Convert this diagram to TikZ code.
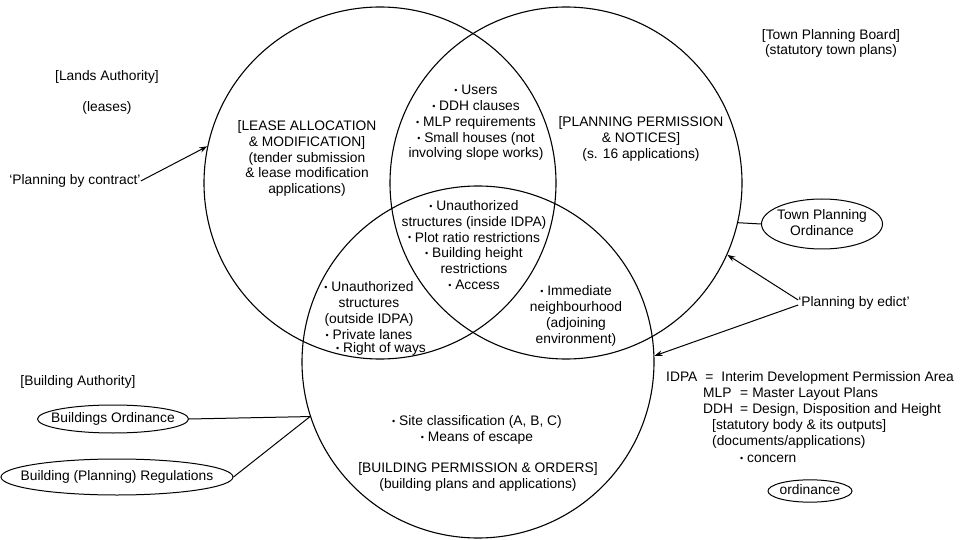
\documentclass[tikz,border=0pt]{standalone}
\usepackage{fontspec}
\setmainfont{Liberation Sans}
\usetikzlibrary{shapes.geometric,arrows.meta}
\newcommand{\bul}{\raisebox{0.15ex}{\scalebox{0.65}{•}}}
\newcommand{\ovaltext}[1]{\makebox[0pt]{\begin{tabular}{@{}c@{}}#1\end{tabular}}}
\begin{document}
\begin{tikzpicture}[x=1pt,y=-1pt,
  every node/.style={font=\fontsize{13.8}{15.8}\selectfont},
  txt/.style={align=center,inner sep=0pt},
  ltxt/.style={anchor=west,inner sep=0pt},
  setcircle/.style={circle,draw,line width=1.1pt,minimum size=352pt,inner sep=0pt},
  oval/.style={ellipse,draw,line width=1pt,inner sep=0pt},
  conn/.style={line width=1pt},
  arr/.style={line width=1pt,-{Stealth[length=8pt,width=5.5pt]}}]
\useasboundingbox (0,0) rectangle (964,540);
% circles
\node[setcircle] (lc) at (380,183) {};
\node[setcircle] (rc) at (566,183) {};
\node[setcircle] (bc) at (478,362) {};
% outside labels
\node[txt] (la) at (107,77) {[Lands Authority]};
\node[txt] (lea) at (107,108) {(leases)};
\node[txt] (pbc) at (75,181) {‘Planning by contract’};
\node[txt] (tpb) at (831,43.5) {[Town Planning Board]\\(statutory town plans)};
\node[oval,minimum width=121pt,minimum height=50pt] (tpo) at (822,224) {\ovaltext{Town Planning\\Ordinance}};
\node[txt] (pbe) at (854,303) {‘Planning by edict’};
\node[txt] (ba) at (78,382) {[Building Authority]};
\node[oval,minimum width=151pt,minimum height=28pt] (bo) at (113,419) {\ovaltext{Buildings Ordinance}};
\node[oval,minimum width=232pt,minimum height=36pt] (bpr) at (117,477) {\ovaltext{Building (Planning) Regulations}};
% circle contents
\node[txt] (lease) at (307,158.5) {[LEASE ALLOCATION\\\& MODIFICATION]\\(tender submission\\\& lease modification\\applications)};
\node[txt] (toplens) at (476,123) {\bul\ Users\\\bul\ DDH clauses\\\bul\ MLP requirements\\\bul\ Small houses (not\\involving slope works)};
\node[txt] (ppn) at (641,139) {[PLANNING PERMISSION\\\& NOTICES]\\(s. 16 applications)};
\node[txt] (mid) at (474,245) {\bul\ Unauthorized\\structures (inside IDPA)\\\bul\ Plot ratio restrictions\\\bul\ Building height\\restrictions\\\bul\ Access};
\node[txt] (leftlens) at (369,310.5) {\bul\ Unauthorized\\structures\\(outside IDPA)\\\bul\ Private lanes};
\node[txt] (row) at (381,349) {\bul\ Right of ways};
\node[txt] (rightlens) at (576,316) {\bul\ Immediate\\neighbourhood\\(adjoining\\environment)};
\node[txt] (site) at (477,430) {\bul\ Site classification (A, B, C)\\\bul\ Means of escape};
\node[txt] (bpo) at (478,477) {[BUILDING PERMISSION \& ORDERS]\\(building plans and applications)};
% legend
\node[ltxt] (k1) at (666,378) {IDPA\hspace{8pt}=\hspace{8pt}Interim Development Permission Area};
\node[ltxt] (k2) at (703,394) {\makebox[37pt][l]{MLP}=\hspace{4pt}Master Layout Plans};
\node[ltxt] (k3) at (703,410) {\makebox[37pt][l]{DDH}=\hspace{4pt}Design, Disposition and Height};
\node[ltxt] (k4) at (712,426) {[statutory body \& its outputs]};
\node[ltxt] (k5) at (712,442) {(documents/applications)};
\node[ltxt] (k6) at (740,459) {\bul\ concern};
\node[oval,minimum width=84pt,minimum height=21pt] (k7) at (810,491) {\ovaltext{ordinance}};
% connectors
\draw[arr] (pbc.east) -- (lc.168.6);
\draw[conn] (tpo.west) -- (rc.-13.8);
\draw[arr] ([yshift=3pt]pbe.west) -- (rc.-24);
\draw[arr] ([yshift=-2pt]pbe.west) -- (bc.2.6);
\draw[conn] (bo.east) -- (bc.198.9);
\draw[conn] (bpr.east) -- (bc.198.9);
\end{tikzpicture}
\end{document}
